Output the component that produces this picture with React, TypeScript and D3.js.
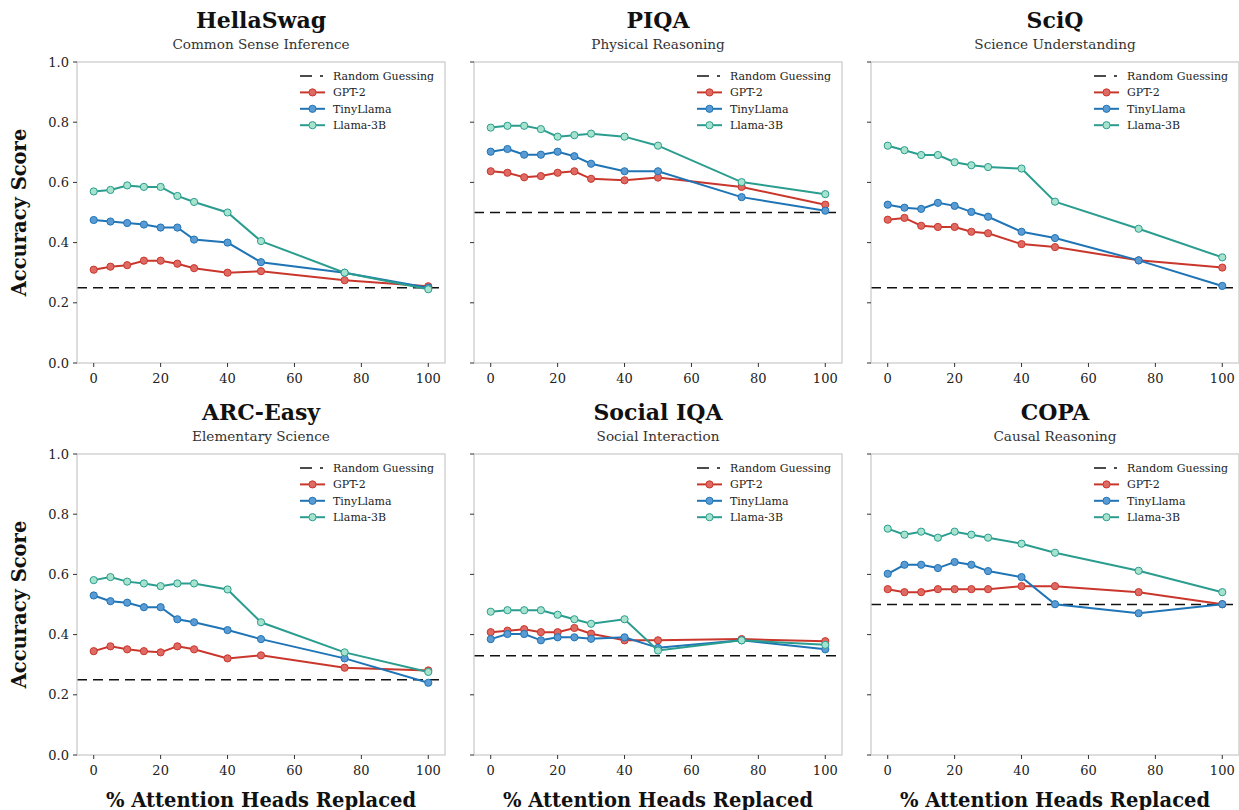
import React from "react";
import * as d3 from "d3";

// Percentage of attention heads replaced (shared x positions)
const replaced = [0, 5, 10, 15, 20, 25, 30, 40, 50, 75, 100];

const benchmarks = ["HellaSwag", "PIQA", "SciQ", "ARC-Easy", "Social IQA", "COPA"];
const subtitles = [
  "Common Sense Inference",
  "Physical Reasoning",
  "Science Understanding",
  "Elementary Science",
  "Social Interaction",
  "Causal Reasoning",
];
const randomBaseline = [0.25, 0.5, 0.25, 0.25, 0.33, 0.5];

const gpt2 = [
  [0.31, 0.32, 0.325, 0.34, 0.34, 0.33, 0.315, 0.3, 0.305, 0.275, 0.255],
  [0.637, 0.632, 0.617, 0.621, 0.632, 0.637, 0.612, 0.607, 0.616, 0.585, 0.526],
  [0.476, 0.482, 0.456, 0.452, 0.452, 0.436, 0.431, 0.395, 0.385, 0.341, 0.317],
  [0.345, 0.361, 0.351, 0.345, 0.341, 0.361, 0.351, 0.321, 0.331, 0.29, 0.281],
  [0.408, 0.413, 0.418, 0.408, 0.408, 0.422, 0.403, 0.381, 0.381, 0.385, 0.378],
  [0.551, 0.541, 0.541, 0.551, 0.551, 0.551, 0.551, 0.561, 0.561, 0.541, 0.501],
];
const tinyLlama = [
  [0.475, 0.47, 0.465, 0.46, 0.45, 0.45, 0.41, 0.4, 0.335, 0.3, 0.25],
  [0.702, 0.711, 0.692, 0.692, 0.702, 0.687, 0.662, 0.637, 0.637, 0.551, 0.506],
  [0.526, 0.516, 0.512, 0.532, 0.522, 0.502, 0.486, 0.436, 0.415, 0.341, 0.256],
  [0.53, 0.511, 0.506, 0.491, 0.491, 0.451, 0.441, 0.415, 0.385, 0.321, 0.24],
  [0.385, 0.402, 0.402, 0.381, 0.391, 0.391, 0.386, 0.391, 0.356, 0.381, 0.351],
  [0.602, 0.632, 0.632, 0.621, 0.641, 0.632, 0.611, 0.591, 0.501, 0.471, 0.501],
];
const llama3b = [
  [0.57, 0.575, 0.59, 0.585, 0.585, 0.555, 0.535, 0.5, 0.405, 0.3, 0.245],
  [0.782, 0.788, 0.788, 0.777, 0.752, 0.757, 0.762, 0.752, 0.722, 0.601, 0.561],
  [0.722, 0.707, 0.691, 0.691, 0.667, 0.657, 0.651, 0.646, 0.536, 0.446, 0.351],
  [0.581, 0.591, 0.576, 0.57, 0.561, 0.57, 0.57, 0.55, 0.441, 0.341, 0.276],
  [0.476, 0.481, 0.481, 0.481, 0.466, 0.451, 0.436, 0.451, 0.347, 0.381, 0.366],
  [0.752, 0.732, 0.742, 0.722, 0.742, 0.732, 0.722, 0.702, 0.672, 0.612, 0.541],
];

const seriesNames = ["GPT-2", "TinyLlama", "Llama-3B"];
const seriesData = [gpt2, tinyLlama, llama3b];
const lineColors = ["#c9372c", "#1f74b6", "#2a9d8f"];
const fillColors = ["#df6a63", "#5b9bd3", "#a5e3cc"];

const xTicks = [0, 20, 40, 60, 80, 100];
const yTicks = [0, 0.2, 0.4, 0.6, 0.8, 1.0];

const SERIF = "'DejaVu Serif', serif";

const panelW = 368;
const panelH = 301;
const colLefts = [77, 474, 871];
const rowTops = [62, 454];

function Panel({ idx }: { idx: number }) {
  const col = idx % 3;
  const row = Math.floor(idx / 3);
  const left = colLefts[col];
  const top = rowTops[row];
  const x = d3.scaleLinear().domain([-5, 105]).range([0, panelW]);
  const y = d3.scaleLinear().domain([0, 1]).range([panelH, 0]);
  const line = d3
    .line<number>()
    .x((_, i) => x(replaced[i]))
    .y((v) => y(v));

  const legendItems = ["Random Guessing", ...seriesNames];

  return (
    <g transform={`translate(${left},${top})`}>
      {/* title and subtitle */}
      <text
        x={panelW / 2}
        y={-34}
        textAnchor="middle"
        fontFamily={SERIF}
        fontWeight="bold"
        fontSize={22}
        fill="#111"
      >
        {benchmarks[idx]}
      </text>
      <text
        x={panelW / 2}
        y={-13}
        textAnchor="middle"
        fontFamily={SERIF}
        fontSize={13.6}
        fill="#333"
      >
        {subtitles[idx]}
      </text>

      {/* random guessing baseline */}
      <line
        x1={0}
        x2={panelW}
        y1={y(randomBaseline[idx])}
        y2={y(randomBaseline[idx])}
        stroke="#111"
        strokeWidth={1.5}
        strokeDasharray="10,6"
      />

      {/* series */}
      {seriesData.map((s, si) => (
        <g key={si}>
          <path d={line(s[idx]) || ""} fill="none" stroke={lineColors[si]} strokeWidth={2} />
          {s[idx].map((v, i) => (
            <circle
              key={i}
              cx={x(replaced[i])}
              cy={y(v)}
              r={3.6}
              fill={fillColors[si]}
              stroke={lineColors[si]}
              strokeWidth={1}
            />
          ))}
        </g>
      ))}

      {/* frame */}
      <rect x={0} y={0} width={panelW} height={panelH} fill="none" stroke="#cccccc" strokeWidth={1.3} />

      {/* y axis ticks */}
      {yTicks.map((t) => (
        <g key={t} transform={`translate(0,${y(t)})`}>
          <line x1={-4} x2={0} stroke="#333" strokeWidth={1} />
          {col === 0 && (
            <text x={-8} dy="0.35em" textAnchor="end" fontFamily={SERIF} fontSize={13} fill="#222">
              {t.toFixed(1)}
            </text>
          )}
        </g>
      ))}

      {/* x axis ticks */}
      {xTicks.map((t) => (
        <g key={t} transform={`translate(${x(t)},${panelH})`}>
          <line y1={0} y2={4} stroke="#333" strokeWidth={1} />
          <text y={20} textAnchor="middle" fontFamily={SERIF} fontSize={13} fill="#222">
            {t}
          </text>
        </g>
      ))}

      {/* axis labels */}
      {col === 0 && (
        <text
          transform={`translate(${-51},${panelH / 2}) rotate(-90)`}
          textAnchor="middle"
          fontFamily={SERIF}
          fontWeight="bold"
          fontSize={19.5}
          fill="#111"
        >
          Accuracy Score
        </text>
      )}
      {row === 1 && (
        <text
          x={panelW / 2}
          y={panelH + 52}
          textAnchor="middle"
          fontFamily={SERIF}
          fontWeight="bold"
          fontSize={19.5}
          fill="#111"
        >
          % Attention Heads Replaced
        </text>
      )}

      {/* legend */}
      <g transform={`translate(223,14)`}>
        {legendItems.map((name, li) => {
          const ly = li * 16.4;
          return (
            <g key={name} transform={`translate(0,${ly})`}>
              {li === 0 ? (
                <line x1={0} x2={23} y1={0} y2={0} stroke="#111" strokeWidth={1.5} strokeDasharray="12,8" />
              ) : (
                <g>
                  <line x1={0} x2={25} y1={0} y2={0} stroke={lineColors[li - 1]} strokeWidth={2} />
                  <circle
                    cx={12.5}
                    cy={0}
                    r={3.6}
                    fill={fillColors[li - 1]}
                    stroke={lineColors[li - 1]}
                    strokeWidth={1}
                  />
                </g>
              )}
              <text x={33} dy="0.35em" fontFamily={SERIF} fontSize={11} fill="#222">
                {name}
              </text>
            </g>
          );
        })}
      </g>
    </g>
  );
}

export default function App() {
  return (
    <svg
      width={1239}
      height={810}
      style={{ position: "absolute", left: 0, top: 0, background: "#fff" }}
    >
      <rect width={1239} height={810} fill="#fff" />
      {benchmarks.map((_, i) => (
        <Panel key={i} idx={i} />
      ))}
    </svg>
  );
}
